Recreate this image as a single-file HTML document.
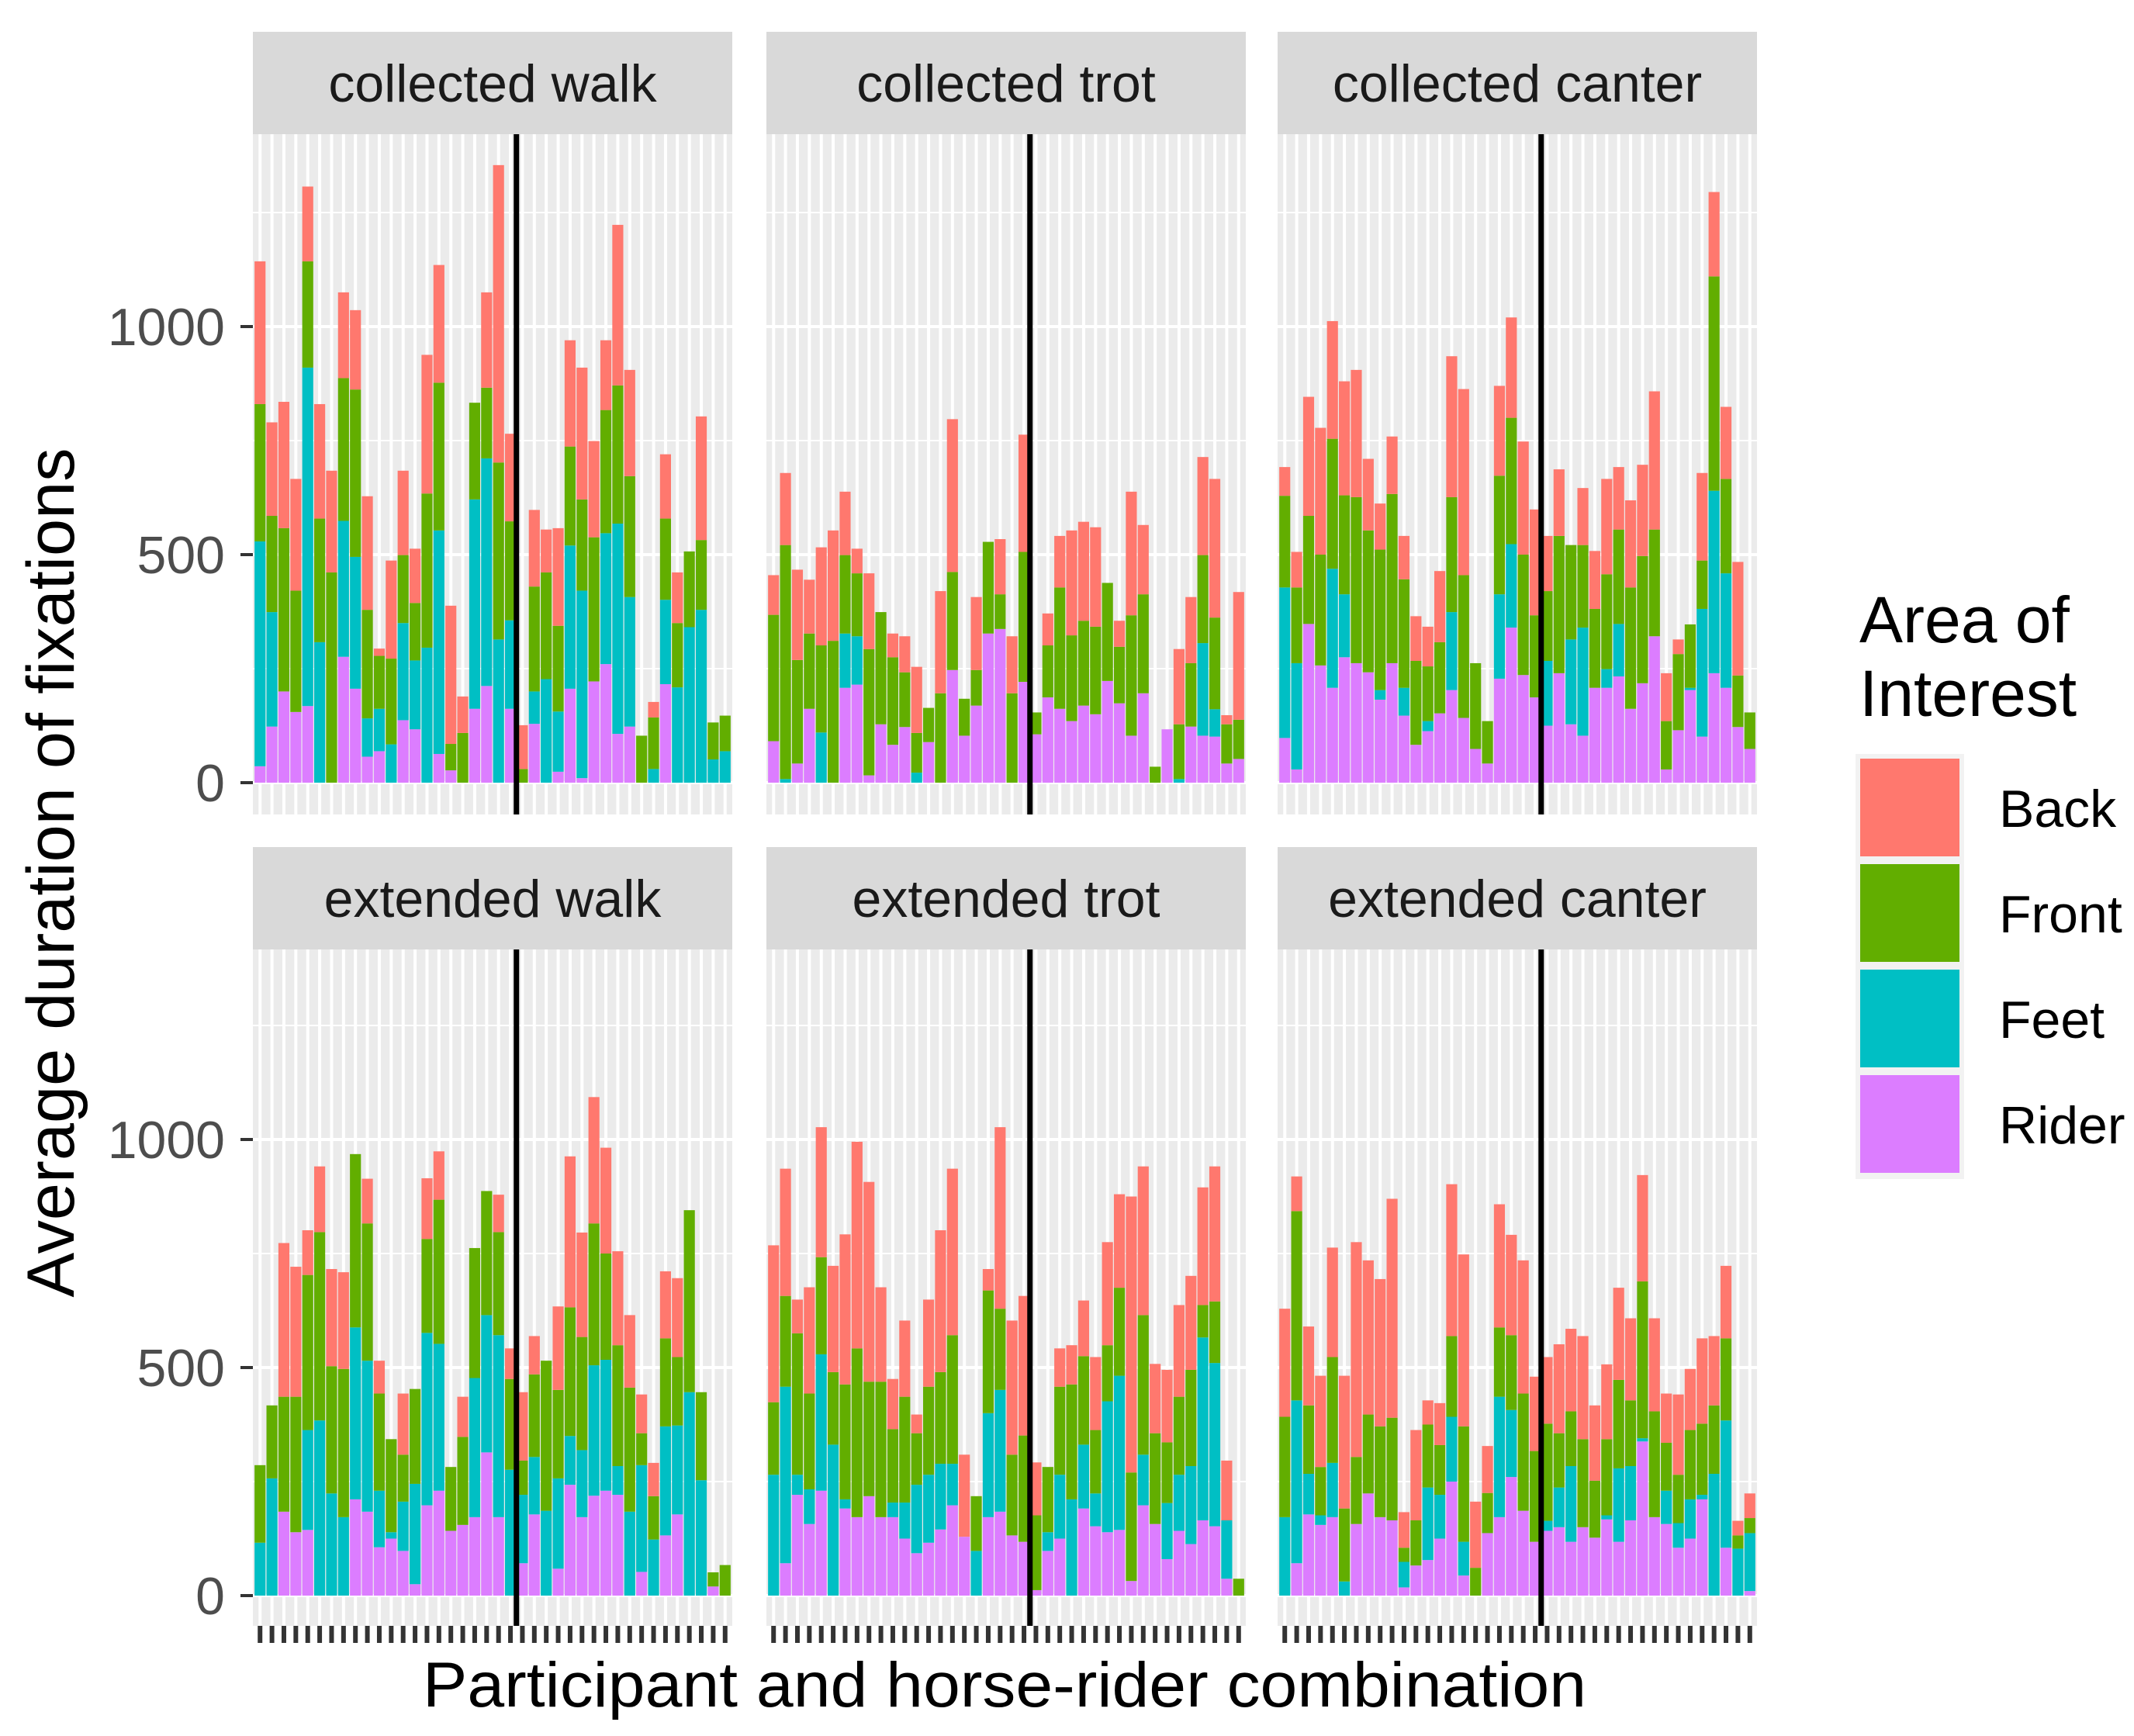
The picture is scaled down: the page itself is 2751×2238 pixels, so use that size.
<!DOCTYPE html>
<html><head><meta charset="utf-8"><style>html,body{margin:0;padding:0;background:#fff;}svg{display:block;}</style></head>
<body>
<svg id="chart" xmlns="http://www.w3.org/2000/svg" width="2751" height="2238" viewBox="0 0 2751 2238" font-family="'Liberation Sans', Arial, sans-serif"></svg>
<script>
// ---- data: segment values per bar (Rider, Feet, Front, Back), 40 bars per panel ----
const panelTitles = ["collected walk","collected trot","collected canter","extended walk","extended trot","extended canter"];
const seriesNames = ["Rider","Feet","Front","Back"];
const yTicks = [0, 500, 1000];
const yTickLabels = ["0","500","1000"];
const dividerAfter = 22;

const cwRider=[36,123,200,155,168,0,0,276,206,57,69,0,137,117,0,63,27,0,162,212,0,162,0,129,0,24,206,10,222,260,107,123,0,0,216,0,0,0,0,0];
const cwFeet=[493,251,0,0,742,308,0,298,289,84,93,84,213,151,296,490,0,0,459,499,314,194,0,71,227,132,314,411,0,287,461,284,0,30,185,209,341,379,51,69];
const cwFront=[301,211,358,266,233,271,461,313,367,238,116,188,149,126,338,324,58,109,212,155,388,217,30,230,234,188,217,200,316,270,303,265,103,113,178,141,166,153,81,78];
const cwBack=[313,205,277,245,164,251,223,188,174,249,16,215,185,119,304,258,303,80,0,209,652,192,96,168,94,214,233,289,211,153,352,233,0,34,141,111,0,271,0,0];

const ctRider=[91,0,42,162,0,0,208,215,16,128,83,122,0,89,0,247,103,169,327,337,0,221,106,187,162,135,169,150,223,174,103,196,0,117,0,123,103,101,42,52];
const ctFeet=[0,8,0,0,110,0,119,106,0,0,0,0,22,0,0,0,0,0,0,0,0,0,0,0,0,0,0,0,0,0,0,0,0,0,8,0,203,60,0,0];
const ctFront=[277,513,227,165,191,311,172,138,277,246,192,120,87,75,196,215,81,78,201,76,196,285,48,114,266,188,186,192,215,124,264,217,35,0,120,139,193,201,86,86];
const ctBack=[87,158,198,118,215,242,139,54,166,0,52,79,145,0,224,335,0,160,0,121,125,257,0,70,113,230,217,218,0,57,271,152,0,0,165,145,215,304,20,280];

const ccRider=[98,29,348,257,208,275,262,242,182,262,147,83,113,152,203,142,74,42,228,340,236,187,125,240,128,103,208,208,233,162,218,321,29,115,203,101,240,208,122,74];
const ccFeet=[330,233,0,0,261,138,0,0,21,0,61,0,22,0,171,0,0,0,185,183,0,0,142,0,186,237,0,41,115,0,0,0,0,0,5,280,400,251,0,0];
const ccFront=[201,166,237,243,285,217,364,311,308,371,238,184,120,156,252,313,188,93,260,277,264,180,153,301,207,181,173,208,207,266,279,234,106,167,139,106,470,207,113,80];
const ccBack=[63,78,261,278,258,250,279,157,101,126,95,98,87,156,309,408,0,0,197,220,248,232,121,146,0,125,127,209,137,191,200,303,105,32,0,192,185,158,249,0];

const ewRider=[0,0,184,139,144,0,0,0,211,184,106,125,98,25,198,230,142,155,172,314,172,0,71,178,0,59,243,172,219,230,221,0,52,0,132,178,0,0,20,0];
const ewFeet=[116,257,0,0,219,384,224,172,377,331,124,14,108,220,378,322,0,0,305,301,399,276,150,126,186,198,107,147,286,287,63,184,234,123,239,195,446,253,0,0];
const ewFront=[170,160,252,297,340,413,279,325,380,301,213,204,103,208,206,316,140,193,285,272,226,199,75,181,329,194,282,248,311,233,265,272,70,95,193,150,399,193,31,67];
const ewBack=[0,0,337,285,98,144,213,212,0,98,72,0,134,0,133,106,0,88,0,0,82,67,150,84,0,183,331,229,277,232,206,159,85,73,147,173,0,0,0,0];

const etRider=[0,71,221,157,230,0,191,172,218,172,172,125,93,116,145,198,129,0,172,184,132,118,12,98,125,0,191,152,139,144,32,198,157,80,142,113,165,152,37,0];
const etFeet=[265,387,44,76,299,331,20,0,0,0,32,79,150,149,144,91,0,98,228,267,0,0,0,41,140,211,140,72,287,338,0,111,0,123,123,171,401,358,128,0];
const etFront=[159,199,310,210,213,159,252,370,251,297,161,232,113,193,201,282,0,120,269,178,177,233,164,143,193,252,194,139,123,193,238,306,199,133,171,211,71,135,0,37];
const etBack=[344,279,74,233,285,233,329,453,438,207,110,167,41,191,311,365,180,0,47,398,294,306,116,0,84,86,122,160,226,205,605,326,152,159,201,206,258,296,131,0];

const ecRider=[0,71,178,155,172,0,157,224,172,165,18,66,78,125,250,44,0,137,172,260,186,118,142,150,118,150,127,167,118,165,338,172,157,105,125,211,0,105,0,10];
const ecFeet=[172,357,89,21,119,31,0,0,0,0,56,0,159,96,142,74,0,0,264,147,0,0,22,87,166,0,0,9,161,119,7,0,73,54,86,10,267,279,103,127];
const ecFront=[220,415,150,106,232,160,147,173,199,225,31,99,138,109,177,253,61,88,152,164,257,199,213,119,120,193,125,167,194,144,344,232,105,106,152,156,150,180,29,33];
const ecBack=[237,76,173,200,240,291,471,338,323,480,78,198,53,92,333,377,145,103,270,220,292,163,146,195,181,226,165,164,202,180,233,204,108,176,134,187,152,159,32,54];

const panelData = [
  [cwRider,cwFeet,cwFront,cwBack],
  [ctRider,ctFeet,ctFront,ctBack],
  [ccRider,ccFeet,ccFront,ccBack],
  [ewRider,ewFeet,ewFront,ewBack],
  [etRider,etFeet,etFront,etBack],
  [ecRider,ecFeet,ecFront,ecBack]
];

// ---- layout / styles ----
const NS = "http://www.w3.org/2000/svg";
const svg = document.getElementById("chart");
const colors = {Rider:"#DC7DFF", Feet:"#00BFC4", Front:"#62AE00", Back:"#FF786E"};
const panelLefts = [326, 988, 1647];
const panelW = 618;
const rows = [
  {stripTop:41, panelTop:173, panelBottom:1050, y0:1009},
  {stripTop:1092, panelTop:1224, panelBottom:2096, y0:2057}
];
const pxPerUnit = 0.588;
const nBars = 40;
const unit = panelW / (nBars + 0.2);

function mk(tag, attrs, parent) {
  const e = document.createElementNS(NS, tag);
  for (const k in attrs) e.setAttribute(k, attrs[k]);
  (parent || svg).appendChild(e);
  return e;
}
function yScale(row, v) { return row.y0 - v * pxPerUnit; }
function xBand(left, i) { return left + 0.1 * unit + i * unit; }

panelTitles.forEach((title, p) => {
  const row = rows[Math.floor(p / 3)];
  const left = panelLefts[p % 3];
  const g = mk("g", {});
  
  

  const strip = mk("rect", {x:left, y:row.stripTop, width:panelW, height:row.panelTop - row.stripTop, fill:"#D9D9D9"}, g);
  
  
  const st = mk("text", {x:left + panelW/2, y:row.stripTop + 90, "text-anchor":"middle", "font-size":68, fill:"#1A1A1A"}, g);
  st.textContent = title;
  
  

  const bg = mk("rect", {x:left, y:row.panelTop, width:panelW, height:row.panelBottom - row.panelTop, fill:"#EBEBEB"}, g);
  
  

  [250, 750, 1250].forEach(v => {
    const l = mk("line", {x1:left, x2:left+panelW, y1:yScale(row,v), y2:yScale(row,v), stroke:"#FFFFFF", "stroke-width":2}, g);
    
    
  });
  for (let i = 0; i < nBars; i++) {
    const cx = xBand(left, i) + unit/2;
    const l = mk("line", {x1:cx, x2:cx, y1:row.panelTop, y2:row.panelBottom, stroke:"#FFFFFF", "stroke-width":4}, g);
    
    
  }
  yTicks.forEach(v => {
    const l = mk("line", {x1:left, x2:left+panelW, y1:yScale(row,v), y2:yScale(row,v), stroke:"#FFFFFF", "stroke-width":4}, g);
    
    
  });

  const data = panelData[p];
  for (let i = 0; i < nBars; i++) {
    let cum = 0;
    for (let s = 0; s < 4; s++) {
      const v = data[s][i];
      if (v > 0) {
        const yTop = yScale(row, cum + v), yBot = yScale(row, cum);
        const r = mk("rect", {x:xBand(left, i) + 0.6, y:yTop, width:unit - 1.2, height:yBot - yTop, fill:colors[seriesNames[s]]}, g);
        
        
      }
      cum += v;
    }
  }

  const dx = xBand(left, dividerAfter);
  const dl = mk("line", {x1:dx, x2:dx, y1:row.panelTop, y2:row.panelBottom, stroke:"#000000", "stroke-width":7}, g);
  
  

  if (p % 3 === 0) {
    yTicks.forEach((v, k) => {
      const t = mk("line", {x1:left - 16, x2:left, y1:yScale(row,v), y2:yScale(row,v), stroke:"#333333", "stroke-width":4});
      
      
      const lb = mk("text", {x:left - 36, y:yScale(row,v) + 24, "text-anchor":"end", "font-size":68, fill:"#4D4D4D"});
      lb.textContent = yTickLabels[k];
      
      
    });
  }
  if (p >= 3) {
    for (let i = 0; i < nBars; i++) {
      const cx = xBand(left, i) + unit/2;
      const t = mk("line", {x1:cx, x2:cx, y1:row.panelBottom, y2:row.panelBottom + 22, stroke:"#333333", "stroke-width":6});
      
      
    }
  }
});

const xt = mk("text", {x:1295, y:2200, "text-anchor":"middle", "font-size":82, fill:"#000", textLength:1500, lengthAdjust:"spacingAndGlyphs"});
xt.textContent = "Participant and horse-rider combination";


const yt = mk("text", {x:0, y:0, "text-anchor":"middle", "font-size":86, fill:"#000", transform:"translate(95,1125) rotate(-90)", textLength:1095, lengthAdjust:"spacingAndGlyphs"});
yt.textContent = "Average duration of fixations";



const lg = mk("g", {});


const lt1 = mk("text", {x:2397, y:828, "font-size":84, fill:"#000"}, lg);
lt1.textContent = "Area of";


const lt2 = mk("text", {x:2397, y:923, "font-size":84, fill:"#000"}, lg);
lt2.textContent = "Interest";


const lbox = mk("rect", {x:2392, y:972, width:140, height:548, fill:"#F2F2F2"}, lg);


const legendOrder = ["Back","Front","Feet","Rider"];
legendOrder.forEach((n, k) => {
  const ky = 978 + k * 136;
  const r = mk("rect", {x:2398, y:ky, width:128, height:126, fill:colors[n]}, lg);
  
  
  const t = mk("text", {x:2577, y:ky + 88, "font-size":68, fill:"#000"}, lg);
  t.textContent = n;
  
  
});
</script>
</body></html>
